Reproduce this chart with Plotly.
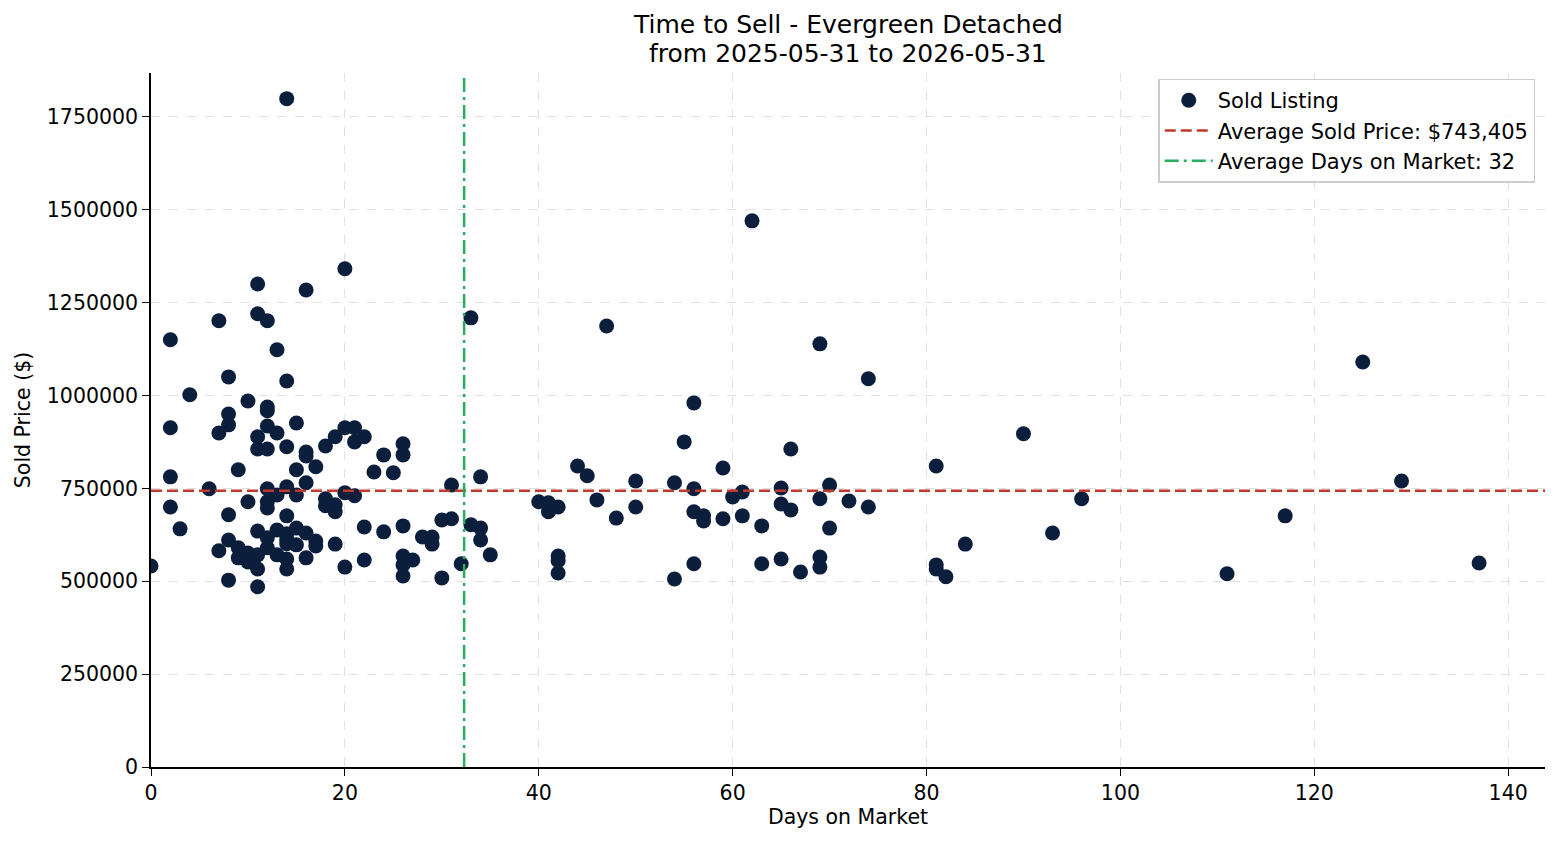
import plotly.graph_objects as go

# Days on market and sold price
days = [
    0, 2, 2, 2, 2, 3, 4, 6, 7, 7, 7, 8, 8, 8, 8, 8, 8, 9, 9, 9,
    10, 10, 10, 10, 11, 11, 11, 11, 11, 11, 11, 11,
    12, 12, 12, 12, 12, 12, 12, 12, 12, 12,
    13, 13, 13, 13, 13,
    14, 14, 14, 14, 14, 14, 14, 14, 14, 14,
    15, 15, 15, 15, 15,
    16, 16, 16, 16, 16, 16,
    17, 17, 17, 18, 18, 18,
    19, 19, 19, 19, 20, 20, 20, 20, 21, 21, 21,
    22, 22, 22, 23, 24, 24, 25,
    26, 26, 26, 26, 26, 26, 27, 28, 29, 29, 30, 30, 31, 31, 32,
    33, 33, 34, 34, 34, 35,
    40, 41, 41, 42, 42, 42, 42, 44, 45, 46, 47, 48, 50, 50,
    54, 54, 55, 56, 56, 56, 56, 57, 57, 59, 59, 60, 61, 61, 62,
    63, 63, 65, 65, 65, 66, 66, 67, 69, 69, 69, 69, 70, 70, 72,
    74, 74, 81, 81, 81, 82, 84, 90, 93, 96, 111, 117, 125, 129, 137,
]
prices = [
    541000, 1150000, 913000, 781000, 700000, 641000, 1002000, 749000, 1201000, 899000, 582000,
    1050000, 950000, 921000, 679000, 611000, 503000, 800000, 590000, 563000,
    985000, 714000, 576000, 552000, 1300000, 1220000, 889000, 856000, 635000, 571000, 533000, 485000,
    1201000, 969000, 959000, 918000, 856000, 749000, 714000, 697000, 617000, 590000,
    1123000, 899000, 732000, 638000, 571000,
    1799000, 1039000, 862000, 754000, 676000, 628000, 612000, 601000, 560000, 533000,
    926000, 800000, 732000, 643000, 598000,
    1284000, 848000, 837000, 765000, 630000, 563000,
    808000, 608000, 595000, 864000, 722000, 703000,
    889000, 706000, 687000, 600000, 1341000, 913000, 738000, 538000, 913000, 875000, 730000,
    889000, 646000, 557000, 794000, 840000, 633000, 792000,
    870000, 840000, 649000, 568000, 544000, 514000, 557000, 619000, 619000, 600000, 665000, 509000,
    668000, 759000, 547000,
    1209000, 652000, 781000, 643000, 611000, 571000,
    714000, 711000, 687000, 700000, 568000, 555000, 522000, 810000, 784000, 719000, 1187000, 670000,
    770000, 700000,
    765000, 506000, 875000, 980000, 749000, 687000, 547000, 676000, 662000, 805000, 668000, 727000,
    740000, 676000, 1470000,
    649000, 547000, 751000, 708000, 560000, 856000, 692000, 525000, 1139000, 722000, 565000, 538000,
    759000, 643000, 716000,
    1045000, 700000, 810000, 544000, 533000, 512000, 600000, 897000, 630000, 722000, 520000, 676000,
    1090000, 770000, 549000,
]

avg_price = 743405
avg_days = 32.3

x_ticks = [0, 20, 40, 60, 80, 100, 120, 140]
y_ticks = [0, 250000, 500000, 750000, 1000000, 1250000, 1500000, 1750000]

title_line1 = "Time to Sell - Evergreen Detached"
title_line2 = "from 2025-05-31 to 2026-05-31"

x_max = 143.8
y_max = 1868000

fig = go.Figure()
fig.add_trace(go.Scatter(
    x=days, y=prices, mode="markers", name="Sold Listing",
    marker=dict(size=15, color="#0b1f3d", line=dict(width=0)),
))
fig.add_trace(go.Scatter(
    x=[0, x_max], y=[avg_price, avg_price], mode="lines",
    name=f"Average Sold Price: ${avg_price:,}",
    line=dict(color="#c0392b", width=2.5, dash="11px,5px"),
))
fig.add_trace(go.Scatter(
    x=[avg_days, avg_days], y=[0, y_max * 0.995], mode="lines",
    name=f"Average Days on Market: {round(avg_days)}",
    line=dict(color="#27ae60", width=2.5, dash="14px,5px,3px,5px"),
))

font = "DejaVu Sans"
fs = 20.5
axis_common = dict(
    showgrid=True, gridcolor="#e0e0e0", griddash="dash", gridwidth=0.8,
    showline=True, linecolor="black", linewidth=1.5,
    ticks="outside", ticklen=7, tickwidth=1.3, tickcolor="black",
    zeroline=False, mirror=False,
    tickfont=dict(family=font, size=fs, color="black"),
)
fig.update_layout(
    width=1560, height=845,
    margin=dict(l=151, r=15, t=73, b=78),
    paper_bgcolor="white", plot_bgcolor="white",
    font=dict(family=font, size=fs, color="black"),
    showlegend=True,
    legend=dict(
        x=0.993, y=0.992, xanchor="right", yanchor="top",
        bgcolor="rgba(255,255,255,0.85)", bordercolor="#cccccc", borderwidth=1.5,
        font=dict(family=font, size=21, color="black"),
        tracegroupgap=0, itemwidth=48,
    ),
    xaxis=dict(
        range=[0, x_max], tickvals=x_ticks, ticktext=[str(v) for v in x_ticks],
        title=dict(text="Days on Market", standoff=5, font=dict(family=font, size=fs, color="black")),
        **axis_common,
    ),
    yaxis=dict(
        range=[0, y_max], tickvals=y_ticks, ticktext=[str(v) for v in y_ticks],
        title=dict(text="Sold Price ($)", standoff=11, font=dict(family=font, size=fs, color="black")),
        **axis_common,
    ),
    annotations=[
        dict(text=title_line1, xref="paper", yref="paper", x=0.5, y=1.0692,
             xanchor="center", yanchor="middle", showarrow=False,
             font=dict(family=font, size=25, color="black")),
        dict(text=title_line2, xref="paper", yref="paper", x=0.5, y=1.0288,
             xanchor="center", yanchor="middle", showarrow=False,
             font=dict(family=font, size=25, color="black")),
    ],
)

fig.write_html("out.html")
